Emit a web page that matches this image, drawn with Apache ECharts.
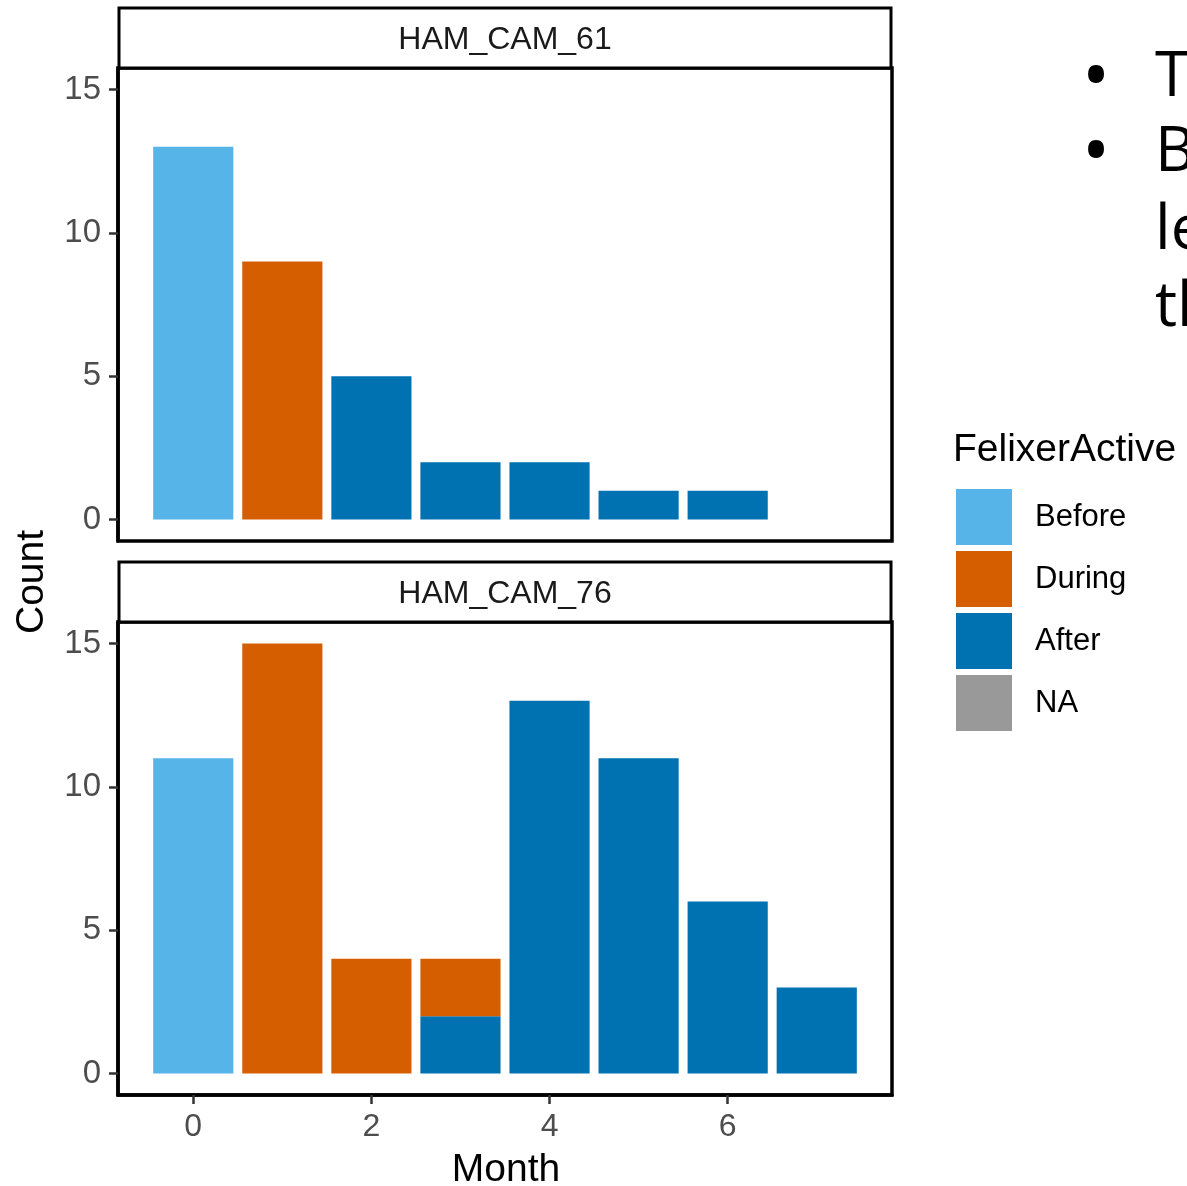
<!DOCTYPE html>
<html><head><meta charset="utf-8">
<script src="https://cdn.jsdelivr.net/npm/echarts@6/dist/echarts.min.js"></script>
<style>html,body{margin:0;padding:0;background:#fff}#c{width:1187px;height:1186px}</style>
</head><body><div id="c"></div>
<script>
const months = [0, 1, 2, 3, 4, 5, 6, 7];
const panels = ['HAM_CAM_61', 'HAM_CAM_76'];
const groups = ['Before', 'During', 'After', 'NA'];
// HAM_CAM_61
const cam61Before = [13, 0, 0, 0, 0, 0, 0, 0];
const cam61During = [0, 9, 0, 0, 0, 0, 0, 0];
const cam61After  = [0, 0, 5, 2, 2, 1, 1, 0];
// HAM_CAM_76
const cam76Before = [11, 0, 0, 0, 0, 0, 0, 0];
const cam76During = [0, 15, 4, 2, 0, 0, 0, 0];
const cam76After  = [0, 0, 0, 2, 13, 11, 6, 3];
const xTicks = [0, 2, 4, 6];
const yTicks = [0, 5, 10, 15];

const colors = {Before: '#56B4E9', During: '#D55E00', After: '#0072B2', NA: '#999999'};
const FONT = 'Liberation Sans';

const chart = echarts.init(document.getElementById('c'), null, {renderer: 'canvas'});

// value first so the stacked dimension is the count (y), month second (x)
function pairs(vals) {
  return vals.map((v, i) => [v ? v : '-', months[i]]);
}

const gridTop = [68, 622];
const gridH = 473;
const grids = gridTop.map(t => ({left: 118, top: t, width: 774, height: gridH, show: true, borderColor: '#000', borderWidth: 3.5, backgroundColor: '#fff'}));

const xAxes = [0, 1].map(i => ({
  type: 'value', gridIndex: i, min: -0.845, max: 7.845,
  splitLine: {show: false},
  axisLine: {show: i === 1, onZero: false, lineStyle: {color: '#000', width: 3.5}},
  axisTick: {show: i === 1, length: 9, customValues: xTicks, lineStyle: {color: '#333', width: 2.5}},
  axisLabel: {show: i === 1, customValues: xTicks, color: '#4d4d4d', fontSize: 32, fontFamily: FONT, margin: 16}
}));
const yAxes = [0, 1].map(i => ({
  type: 'value', gridIndex: i, min: -0.75, max: 15.75,
  splitLine: {show: false},
  axisLine: {show: true, onZero: false, lineStyle: {color: '#000', width: 3.5}},
  axisTick: {show: true, length: 9, customValues: yTicks, lineStyle: {color: '#333', width: 2.5}},
  axisLabel: {show: true, customValues: yTicks, color: '#4d4d4d', fontSize: 33, fontFamily: FONT, margin: 17}
}));

function bar(name, vals, gi) {
  return {type: 'bar', name: name, xAxisIndex: gi, yAxisIndex: gi, stack: 'p' + gi,
    barWidth: '90%', data: pairs(vals), encode: {x: 1, y: 0},
    itemStyle: {color: colors[name]}, animation: false};
}
const series = [
  bar('After', cam61After, 0), bar('During', cam61During, 0), bar('Before', cam61Before, 0),
  bar('After', cam76After, 1), bar('During', cam76During, 1), bar('Before', cam76Before, 1),
  {type: 'bar', name: 'NA', xAxisIndex: 0, yAxisIndex: 0, stack: 'p0', barWidth: '90%', data: [], encode: {x: 1, y: 0}, itemStyle: {color: colors.NA}}
];

const strips = panels.map((p, i) => ({
  type: 'group', children: [
    {type: 'rect', shape: {x: 119, y: gridTop[i] - 60, width: 772, height: 60}, style: {fill: '#fff', stroke: '#000', lineWidth: 3}},
    {type: 'text', x: 505, y: gridTop[i] - 28, style: {text: p, fontSize: 32, fontFamily: FONT, fill: '#1a1a1a', align: 'center', verticalAlign: 'middle'}}
  ]
}));

const slideLines = [['•', 'To', 78], ['•', 'Be', 153], ['', 'le', 231], ['', 'th', 308]];
const slide = [];
slideLines.forEach(l => {
  if (l[0]) slide.push({type: 'text', x: 1096, y: l[2] + 2, style: {text: l[0], fontSize: 76, fontFamily: 'Open Sans', fill: '#000', align: 'center', verticalAlign: 'middle'}});
  slide.push({type: 'text', x: 1155, y: l[2], style: {text: l[1], fontSize: 62, fontFamily: 'Open Sans', fill: '#000', align: 'left', verticalAlign: 'middle'}});
});

chart.setOption({
  animation: false,
  backgroundColor: '#fff',
  grid: grids, xAxis: xAxes, yAxis: yAxes, series: series,
  title: {text: 'FelixerActive', left: 953, top: 429, padding: [2, 0, 0, 0], textStyle: {fontSize: 39, fontWeight: 'normal', color: '#000', fontFamily: FONT}},
  legend: {
    orient: 'vertical', left: 956, top: 489, padding: 0,
    itemWidth: 56, itemHeight: 56, itemGap: 6, icon: 'rect',
    data: groups,
    textStyle: {fontSize: 31, color: '#000', fontFamily: FONT, padding: [0, 0, 0, 18]},
    selectedMode: false
  },
  graphic: [
    ...strips,
    {type: 'text', x: 32, y: 582, rotation: Math.PI / 2, style: {text: 'Count', fontSize: 39, fontFamily: FONT, fill: '#000', align: 'center', verticalAlign: 'middle'}},
    {type: 'text', x: 506, y: 1170, style: {text: 'Month', fontSize: 39, fontFamily: FONT, fill: '#000', align: 'center', verticalAlign: 'middle'}},
    ...slide
  ]
});
</script></body></html>
